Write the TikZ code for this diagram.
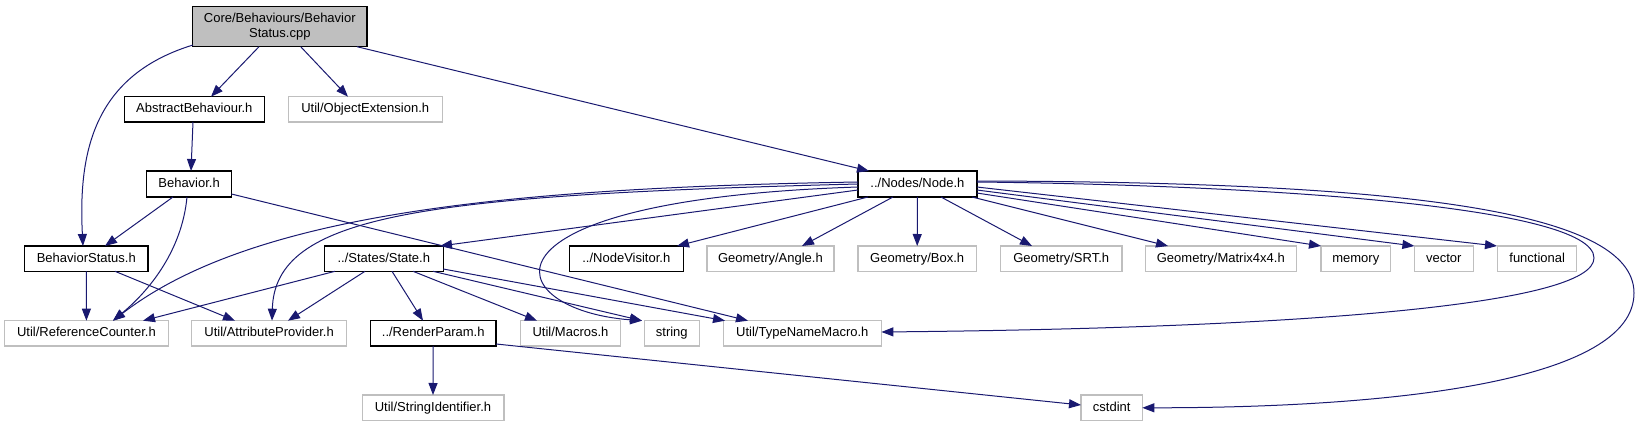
\documentclass[tikz,border=0pt]{standalone}
\usepackage{fontspec}
\setmainfont{Liberation Sans}
\usetikzlibrary{arrows.meta}
\definecolor{edgec}{HTML}{191970}
\definecolor{extc}{HTML}{BFBFBF}
\begin{document}
\begin{tikzpicture}[x=1pt,y=-1pt,
  every node/.style={font=\fontsize{13}{14.5}\selectfont, inner sep=0pt},
  one/.style={minimum height=25.3pt, text height=9.5pt, text depth=2.6pt},
  doc/.style={one, draw=black, line width=1.2pt, fill=white},
  ext/.style={one, draw=extc, line width=1.2pt, fill=white},
  dep/.style={draw=edgec, line width=1pt, -{Triangle[length=12pt,width=9pt]}},
]
\useasboundingbox (0,0) rectangle (1639,427);

% nodes
\node[draw=black, line width=1.2pt, fill=extc, minimum width=174.5pt, minimum height=40.4pt, align=center] (root) at (279.8,26.5) {Core/Behaviours/Behavior\\Status.cpp};
\node[doc, minimum width=140pt] (absb) at (194.3,109.3) {AbstractBehaviour.h};
\node[ext, minimum width=154pt] (objext) at (365.2,109.3) {Util/ObjectExtension.h};
\node[doc, minimum width=84.6pt, minimum height=26pt] (behav) at (189.1,184) {Behavior.h};
\node[doc, minimum width=119pt, minimum height=26pt] (node) at (917.4,184) {../Nodes/Node.h};
\node[doc, minimum width=123.3pt] (bstat) at (86.3,258.7) {BehaviorStatus.h};
\node[doc, minimum width=119pt] (state) at (383.8,258.7) {../States/State.h};
\node[doc, minimum width=114pt] (nvis) at (626.3,258.7) {../NodeVisitor.h};
\node[ext, minimum width=127pt] (angle) at (770.4,258.7) {Geometry/Angle.h};
\node[ext, minimum width=118.5pt] (box) at (917.2,258.7) {Geometry/Box.h};
\node[ext, minimum width=121.6pt] (srt) at (1061.2,258.7) {Geometry/SRT.h};
\node[ext, minimum width=151pt] (mat) at (1220.8,258.7) {Geometry/Matrix4x4.h};
\node[ext, minimum width=69.6pt] (memory) at (1355.8,258.7) {memory};
\node[ext, minimum width=58.8pt] (vector) at (1443.8,258.7) {vector};
\node[ext, minimum width=79pt] (functional) at (1537.2,258.7) {functional};
\node[ext, minimum width=163.6pt] (refc) at (86.4,333.3) {Util/ReferenceCounter.h};
\node[ext, minimum width=155.4pt] (attr) at (269.1,333.3) {Util/AttributeProvider.h};
\node[doc, minimum width=125.7pt] (rparam) at (433.2,333.3) {../RenderParam.h};
\node[ext, minimum width=100.3pt] (macros) at (570.5,333.3) {Util/Macros.h};
\node[ext, minimum width=55pt] (string) at (671.8,333.3) {string};
\node[ext, minimum width=158.2pt] (tnm) at (802.3,333.3) {Util/TypeNameMacro.h};
\node[ext, minimum width=141.8pt, minimum height=25.7pt] (sid) at (433,407.8) {Util/StringIdentifier.h};
\node[ext, minimum width=61.3pt, minimum height=25.7pt] (cstdint) at (1111.7,407.8) {cstdint};

% edges from root
\draw[dep] ([shift={(-86.8,18.5)}]root.center) .. controls (95,75) and (78,150) .. ([shift={(-3.3,-12.7)}]bstat.center);
\draw[dep] ([shift={(-20.8,20.2)}]root.center) -- ([shift={(16.7,-12.6)}]absb.center);
\draw[dep] ([shift={(20.9,20.2)}]root.center) -- ([shift={(-17.2,-12.6)}]objext.center);
\draw[dep] ([shift={(77.2,20.2)}]root.center) -- ([shift={(-48.4,-13)}]node.center);
% abstract behaviour
\draw[dep] ([shift={(-1.3,12.7)}]absb.center) -- ([shift={(1.9,-13)}]behav.center);
% behavior
\draw[dep] ([shift={(-16.1,13)}]behav.center) -- ([shift={(18.7,-12.7)}]bstat.center);
\draw[dep] ([shift={(-2.1,13)}]behav.center) .. controls (182,250) and (150,290) .. ([shift={(26.6,-12.6)}]refc.center);
\draw[dep] ([shift={(42.3,10)}]behav.center) -- ([shift={(-54.3,-12.6)}]tnm.center);
% behavior status
\draw[dep] ([shift={(0.1,12.6)}]bstat.center) -- ([shift={(0,-12.6)}]refc.center);
\draw[dep] ([shift={(28.7,12.6)}]bstat.center) -- ([shift={(-34.1,-12.6)}]attr.center);
% node
\draw[dep] ([shift={(-59.4,-2)}]node.center) .. controls (500,188) and (250,215) .. ([shift={(26.6,-12.6)}]refc.center);
\draw[dep] ([shift={(-59.4,0)}]node.center) .. controls (420,195) and (275,215) .. ([shift={(2.9,-12.6)}]attr.center);
\draw[dep] ([shift={(-59.4,3)}]node.center) .. controls (460,200) and (500,310) .. ([shift={(-29.8,-12.6)}]string.center);
\draw[dep] ([shift={(-59.4,6)}]node.center) -- ([shift={(56.2,-12.7)}]state.center);
\draw[dep] ([shift={(-49.4,13)}]node.center) -- ([shift={(50.7,-12.7)}]nvis.center);
\draw[dep] ([shift={(-24.4,13)}]node.center) -- ([shift={(31.6,-12.7)}]angle.center);
\draw[dep] ([shift={(0,13)}]node.center) -- ([shift={(0,-12.7)}]box.center);
\draw[dep] ([shift={(23.6,13)}]node.center) -- ([shift={(-29.2,-12.7)}]srt.center);
\draw[dep] ([shift={(54.6,13)}]node.center) -- ([shift={(-52.8,-12.7)}]mat.center);
\draw[dep] ([shift={(59.4,9)}]node.center) -- ([shift={(-34.8,-12.7)}]memory.center);
\draw[dep] ([shift={(59.4,6)}]node.center) -- ([shift={(-29.4,-12.7)}]vector.center);
\draw[dep] ([shift={(59.4,3)}]node.center) -- ([shift={(-40.2,-12.7)}]functional.center);
\draw[dep] ([shift={(59.4,-2)}]node.center) .. controls (1250,185) and (1594,205) .. (1594,258) .. controls (1594,305) and (1300,328) .. ([shift={(79.1,-1.3)}]tnm.center);
\draw[dep] ([shift={(59.4,-3)}]node.center) .. controls (1400,182) and (1634,210) .. (1634,293) .. controls (1634,380) and (1400,407.8) .. ([shift={(30.6,0)}]cstdint.center);
% state
\draw[dep] ([shift={(-48.8,12.6)}]state.center) -- ([shift={(56.6,-12.6)}]refc.center);
\draw[dep] ([shift={(-18.8,12.6)}]state.center) -- ([shift={(18.9,-12.6)}]attr.center);
\draw[dep] ([shift={(8.2,12.6)}]state.center) -- ([shift={(-10.2,-12.6)}]rparam.center);
\draw[dep] ([shift={(29.2,12.6)}]state.center) -- ([shift={(-33.5,-12.6)}]macros.center);
\draw[dep] ([shift={(49.2,12.6)}]state.center) -- ([shift={(-29.8,-12.6)}]string.center);
\draw[dep] ([shift={(59.4,10.3)}]state.center) -- ([shift={(-77.3,-12.6)}]tnm.center);
% render param
\draw[dep] ([shift={(0,12.6)}]rparam.center) -- ([shift={(0,-12.8)}]sid.center);
\draw[dep] ([shift={(62.9,10.7)}]rparam.center) -- ([shift={(-30.7,-2.8)}]cstdint.center);
\end{tikzpicture}
\end{document}
